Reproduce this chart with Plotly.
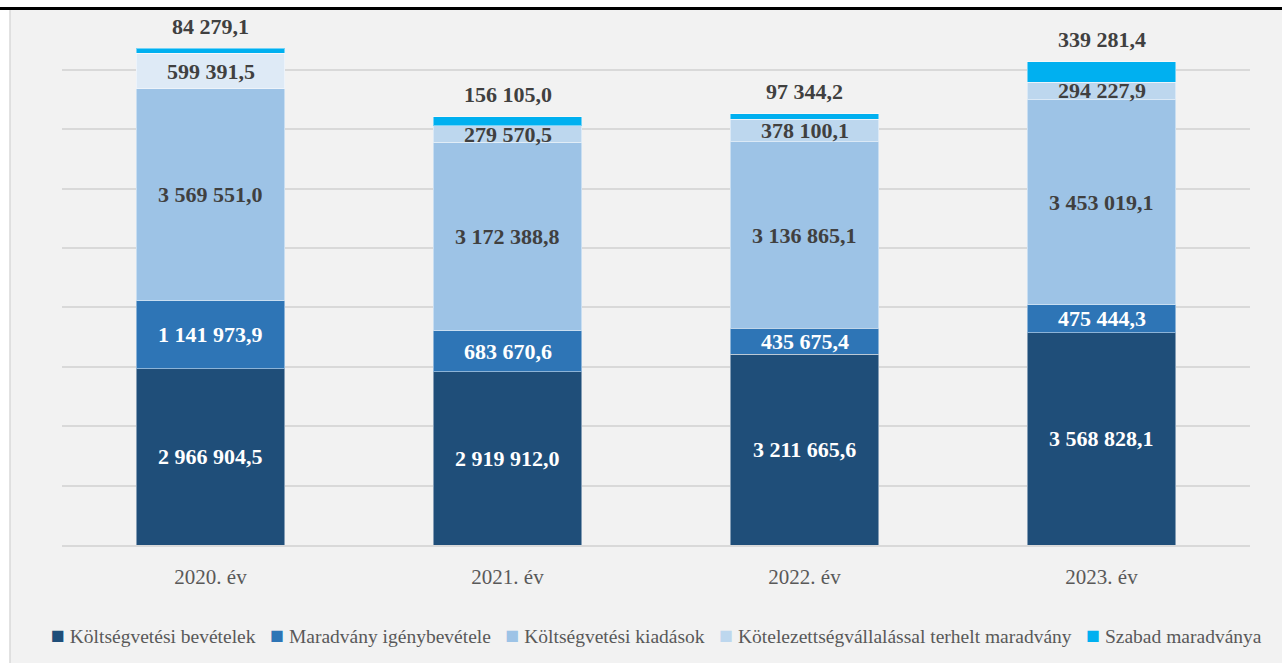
import plotly.graph_objects as go

years = ["2020. év", "2021. év", "2022. év", "2023. év"]
series_names = [
    "Költségvetési bevételek",
    "Maradvány igénybevétele",
    "Költségvetési kiadások",
    "Kötelezettségvállalással terhelt maradvány",
    "Szabad maradványa",
]
bevetelek = [2966904.5, 2919912.0, 3211665.6, 3568828.1]
maradvany_igeny = [1141973.9, 683670.6, 435675.4, 475444.3]
kiadasok = [3569551.0, 3172388.8, 3136865.1, 3453019.1]
kotelezettseg = [599391.5, 279570.5, 378100.1, 294227.9]
szabad = [84279.1, 156105.0, 97344.2, 339281.4]

series_values = [bevetelek, maradvany_igeny, kiadasok, kotelezettseg, szabad]
series_colors = ["#1f4e79", "#2e75b6", "#9dc3e6", "#bdd7ee", "#00b0f0"]
point_colors = [
    [series_colors[0]] * 4,
    [series_colors[1]] * 4,
    [series_colors[2]] * 4,
    ["#deeaf6", "#bdd7ee", "#bdd7ee", "#bdd7ee"],
    [series_colors[4]] * 4,
]
label_colors = ["#ffffff", "#ffffff", "#404040", "#404040", "#404040"]

FONT = "Liberation Serif, Times New Roman, DejaVu Serif, serif"


def fmt(v):
    return f"{v:,.1f}".replace(",", " ").replace(".", ",")


fig = go.Figure()
for name, vals, cols in zip(series_names, series_values, point_colors):
    fig.add_trace(go.Bar(
        x=years, y=vals, name=name,
        marker=dict(color=cols, line=dict(color="rgba(255,255,255,0.45)", width=1)),
        showlegend=False, hoverinfo="skip",
    ))

annotations = []
base = [0.0] * 4
for si, vals in enumerate(series_values):
    for i, v in enumerate(vals):
        is_top = si == len(series_values) - 1
        annotations.append(dict(
            x=years[i], y=(base[i] + v) if is_top else (base[i] + v / 2),
            xref="x", yref="y", text="<b>" + fmt(v) + "</b>",
            showarrow=False, yanchor="middle", yshift=22 if is_top else 0,
            font=dict(family=FONT, size=22, color=label_colors[si]),
        ))
        base[i] += v

# custom legend built from series names and colours
legend_parts = []
for name, col in zip(series_names, series_colors):
    legend_parts.append(f"<span style='color:{col};font-size:23px'>■</span> {name}")
annotations.append(dict(
    x=0.5, y=-0.18, xref="paper", yref="paper", xanchor="center", yanchor="middle",
    text="&nbsp;&nbsp;&nbsp;".join(legend_parts), showarrow=False,
    font=dict(family=FONT, size=19.5, color="#595959"),
))

shapes = [
    dict(type="rect", xref="paper", yref="paper", x0=-0.1, x1=1.1, y0=(545 - 8) / 505, y1=1.2,
         fillcolor="white", line=dict(width=0), layer="below"),
    dict(type="rect", xref="paper", yref="paper", x0=-62 / 1188, x1=-52 / 1188, y0=-0.5, y1=1.2,
         fillcolor="white", line=dict(width=0), layer="below"),
    dict(type="line", xref="paper", yref="paper", x0=-52 / 1188, x1=-52 / 1188, y0=-0.5, y1=(545 - 9) / 505,
         line=dict(color="#d9d9d9", width=1.5)),
    dict(type="line", xref="paper", yref="paper", x0=-0.1, x1=1.1, y0=(545 - 8.5) / 505, y1=(545 - 8.5) / 505,
         line=dict(color="black", width=3)),
]

fig.update_layout(
    barmode="stack",
    bargap=0.5,
    width=1282, height=663,
    margin=dict(l=62, r=32, t=40, b=118),
    paper_bgcolor="#f2f2f2",
    plot_bgcolor="#f2f2f2",
    font=dict(family=FONT, color="#595959"),
    annotations=annotations,
    shapes=shapes,
    xaxis=dict(
        showgrid=False, showline=True, linecolor="#d9d9d9", linewidth=1.5,
        tickfont=dict(family=FONT, size=21, color="#595959"), ticks="", ticklabelstandoff=12,
    ),
    yaxis=dict(
        range=[0, 8500000], dtick=1000000, showticklabels=False, showgrid=True,
        gridcolor="#d9d9d9", gridwidth=1.5, zeroline=False, showline=False,
    ),
)

fig.write_html("out.html")
